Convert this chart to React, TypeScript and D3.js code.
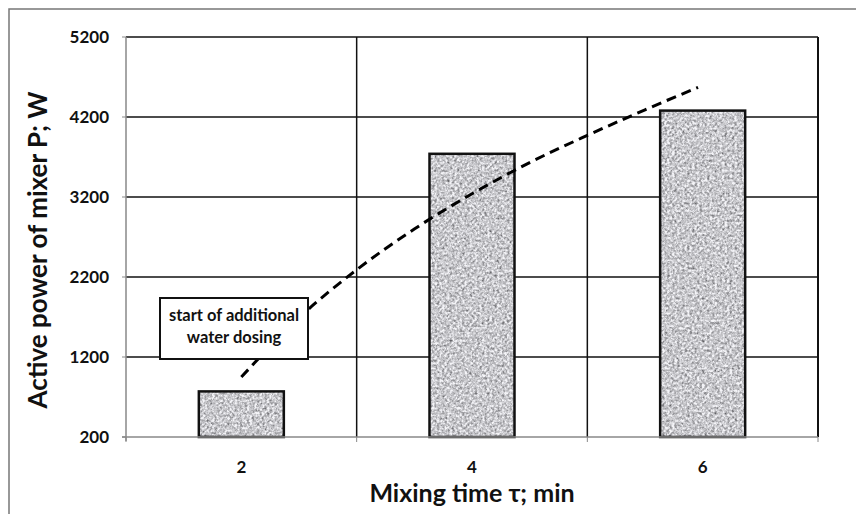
import React from "react";
import * as d3 from "d3";

const categories = ["2", "4", "6"];
const barValues = [770, 3740, 4280];
const yTicks = [200, 1200, 2200, 3200, 4200, 5200];
// dashed trend curve (x in min, P in W)
const trendX = [2, 2.5, 3, 3.5, 4, 4.5, 5, 5.5, 5.96];
const trendY = [950, 1690, 2290, 2800, 3240, 3630, 3970, 4290, 4570];
const annotationLines = ["start of additional", "water dosing"];
const xTitle = "Mixing time \u03c4; min";
const yTitle = "Active power of mixer P; W";

const W = 856;
const H = 514;
const L = 126, R = 818, T = 37, B = 437;
const FONT = "Lato, 'Open Sans', sans-serif";

export default function App() {
  const xBand = d3.scaleBand<string>().domain(categories).range([L, R]).padding(0);
  const xLin = d3.scaleLinear().domain([1, 7]).range([L, R]);
  const y = d3.scaleLinear().domain([200, 5200]).range([B, T]);
  const barW = 85;

  const line = d3
    .line<number>()
    .x((_, i) => xLin(trendX[i]))
    .y((d) => y(d))
    .curve(d3.curveMonotoneX);

  const boundaries = [L, ...categories.map((c) => (xBand(c) as number) + xBand.bandwidth())];

  return (
    <svg
      width={W}
      height={H}
      style={{ position: "absolute", left: 0, top: 0, background: "#fff" }}
    >
      <defs>
        <filter id="granite" x="0" y="0" width="1" height="1" filterUnits="objectBoundingBox" colorInterpolationFilters="sRGB">
          <feTurbulence type="fractalNoise" baseFrequency="0.4" numOctaves={3} seed={7} result="n" />
          <feColorMatrix
            in="n"
            type="matrix"
            values="0.33 0.33 0.33 0 0  0.33 0.33 0.33 0 0  0.33 0.33 0.33 0 0  0 0 0 0 1"
            result="g"
          />
          <feComponentTransfer in="g" result="c">
            <feFuncR type="linear" slope={2.4} intercept={-0.47} />
            <feFuncG type="linear" slope={2.4} intercept={-0.47} />
            <feFuncB type="linear" slope={2.4} intercept={-0.46} />
          </feComponentTransfer>
          <feComponentTransfer in="c" result="d">
            <feFuncR type="linear" slope={0.62} intercept={0.34} />
            <feFuncG type="linear" slope={0.62} intercept={0.34} />
            <feFuncB type="linear" slope={0.62} intercept={0.35} />
          </feComponentTransfer>
          <feComposite in="d" in2="SourceGraphic" operator="in" />
        </filter>
      </defs>

      {/* outer frame */}
      <rect x={9} y={9} width={W} height={H} fill="none" stroke="#777" strokeWidth={1.5} />

      {/* horizontal gridlines */}
      {yTicks.slice(1).map((t) => (
        <line key={t} x1={L} x2={R} y1={y(t)} y2={y(t)} stroke="#111" strokeWidth={1.5} />
      ))}
      {/* vertical gridlines */}
      {boundaries.slice(1).map((bx, i) => (
        <line
          key={i}
          x1={bx}
          x2={bx}
          y1={T}
          y2={B}
          stroke="#111"
          strokeWidth={i === boundaries.length - 2 ? 2 : 1.5}
        />
      ))}

      {/* bars */}
      {categories.map((c, i) => {
        const cx = (xBand(c) as number) + xBand.bandwidth() / 2;
        const y0 = y(barValues[i]);
        return (
          <g key={c}>
            <rect x={cx - barW / 2} y={y0} width={barW} height={B - y0} fill="#bbb" filter="url(#granite)" />
            <rect
              x={cx - barW / 2}
              y={y0}
              width={barW}
              height={B - y0}
              fill="none"
              stroke="#111"
              strokeWidth={2.5}
            />
          </g>
        );
      })}

      {/* axes */}
      <line x1={L} x2={L} y1={T} y2={B + 4} stroke="#888" strokeWidth={1.5} />
      <line x1={L - 4} x2={R} y1={B} y2={B} stroke="#888" strokeWidth={1.5} />
      {yTicks.map((t) => (
        <line key={t} x1={L - 4} x2={L} y1={y(t)} y2={y(t)} stroke="#888" strokeWidth={1} />
      ))}
      {boundaries.map((bx, i) => (
        <line key={i} x1={bx} x2={bx} y1={B} y2={B + 5} stroke="#888" strokeWidth={1} />
      ))}

      {/* trend curve */}
      <path
        d={line(trendY) || ""}
        fill="none"
        stroke="#000"
        strokeWidth={3}
        strokeDasharray="10,6"
      />

      {/* annotation */}
      <rect x={160} y={298} width={148} height={61} fill="#fff" stroke="#111" strokeWidth={2} />
      {annotationLines.map((s, i) => (
        <text
          key={i}
          x={234}
          y={321 + i * 22}
          textAnchor="middle"
          fontFamily={FONT}
          fontWeight="bold"
          fontSize={16.5}
          fill="#111"
        >
          {s}
        </text>
      ))}

      {/* y tick labels */}
      {yTicks.map((t) => (
        <text
          key={t}
          x={109}
          y={y(t)}
          dy="0.35em"
          textAnchor="end"
          fontFamily={FONT}
          fontWeight="bold"
          fontSize={17}
          fill="#111"
        >
          {t}
        </text>
      ))}

      {/* x tick labels */}
      {categories.map((c) => (
        <text
          key={c}
          x={(xBand(c) as number) + xBand.bandwidth() / 2}
          y={467}
          dy="0.35em"
          textAnchor="middle"
          fontFamily={FONT}
          fontWeight="bold"
          fontSize={17}
          fill="#111"
        >
          {c}
        </text>
      ))}

      {/* axis titles */}
      <text
        x={472}
        y={493}
        dy="0.35em"
        textAnchor="middle"
        fontFamily={FONT}
        fontWeight="bold"
        fontSize={25}
        fill="#111"
      >
        {xTitle}
      </text>
      <text
        transform={`translate(38,250) rotate(-90)`}
        dy="0.35em"
        textAnchor="middle"
        fontFamily={FONT}
        fontWeight="bold"
        fontSize={26}
        fill="#111"
      >
        {yTitle}
      </text>
    </svg>
  );
}
